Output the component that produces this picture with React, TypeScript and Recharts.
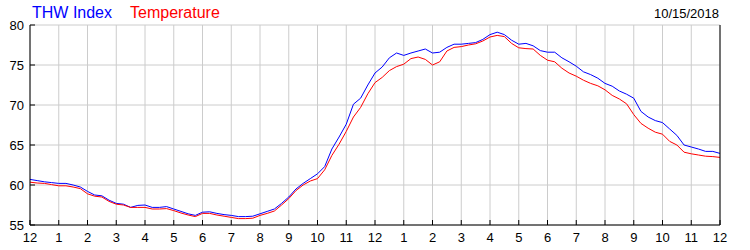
import { CartesianGrid, Line, LineChart, XAxis, YAxis } from 'recharts';

// quarter-hour readings, midnight to midnight
const hours = Array.from({ length: 97 }, (_, i) => i / 4);

const thwIndex = [
  60.7, 60.55, 60.4, 60.3, 60.2, 60.2, 60.0, 59.75,
  59.2, 58.75, 58.65, 58.1, 57.7, 57.6, 57.2, 57.45,
  57.5, 57.2, 57.2, 57.3, 57.0, 56.7, 56.4, 56.2,
  56.6, 56.65, 56.45, 56.3, 56.2, 56.05, 56.05, 56.1,
  56.4, 56.7, 57.0, 57.7, 58.5, 59.5, 60.2, 60.8,
  61.4, 62.3, 64.5, 66.0, 67.6, 70.1, 70.85, 72.5,
  74.0, 74.75, 75.9, 76.5, 76.2, 76.5, 76.75, 77.0,
  76.5, 76.6, 77.2, 77.6, 77.6, 77.7, 77.8, 78.2,
  78.8, 79.1, 78.8, 78.1, 77.6, 77.7, 77.4, 76.8,
  76.6, 76.6, 75.9, 75.4, 74.85, 74.15, 73.8, 73.35,
  72.7, 72.35, 71.75, 71.35, 70.85, 69.2, 68.5, 68.05,
  67.8, 67.0, 66.2, 65.0, 64.75, 64.5, 64.2, 64.2,
  63.95,
];

const temperature = [
  60.35, 60.25, 60.2, 60.05, 59.9, 59.9, 59.75, 59.55,
  58.9, 58.6, 58.5, 57.95, 57.6, 57.5, 57.2, 57.2,
  57.2, 57.0, 57.0, 57.05, 56.8, 56.5, 56.25, 56.05,
  56.45, 56.45, 56.25, 56.1, 55.95, 55.8, 55.8, 55.85,
  56.2, 56.45, 56.75, 57.5, 58.3, 59.3, 60.0, 60.5,
  60.8, 61.9, 63.7, 65.1, 66.7, 68.5, 69.7, 71.4,
  72.8, 73.45, 74.3, 74.8, 75.1, 75.8, 76.0, 75.7,
  75.0, 75.4, 76.75, 77.2, 77.3, 77.5, 77.65, 78.0,
  78.5, 78.7, 78.55, 77.7, 77.15, 77.05, 77.0, 76.2,
  75.6, 75.4, 74.6, 74.0, 73.6, 73.1, 72.7, 72.4,
  71.9, 71.2, 70.75, 70.15, 68.8, 67.7, 67.1, 66.6,
  66.35, 65.45, 65.0, 64.1, 63.9, 63.75, 63.6, 63.55,
  63.45,
];

const hourTicks = Array.from({ length: 25 }, (_, i) => i);
const tempTicks = [55, 60, 65, 70, 75, 80];

const data = hours.map((h, i) => ({
  h,
  thw: thwIndex[i],
  temp: temperature[i],
}));

const FONT = '"Liberation Sans", Arial, sans-serif';
const TICK_COLOR = '#000';

const clockLabel = (h: number) => String(h % 12 === 0 ? 12 : h % 12);

const BottomTick = ({ x, y, payload }: any) => (
  <g>
    <line x1={x} x2={x} y1={y - 5} y2={y} stroke={TICK_COLOR} />
    <text x={x} y={y + 17} textAnchor='middle' fontSize={13} fontFamily={FONT} fill='#000'>
      {clockLabel(payload.value)}
    </text>
  </g>
);

const TopTick = ({ x, y }: any) => (
  <line x1={x} x2={x} y1={y} y2={y + 5} stroke={TICK_COLOR} />
);

const LeftTick = ({ x, y, payload }: any) => (
  <g>
    <line x1={x} x2={x + 5} y1={y} y2={y} stroke={TICK_COLOR} />
    <text x={x - 6} y={y + 5} textAnchor='end' fontSize={13} fontFamily={FONT} fill='#000'>
      {payload.value}
    </text>
  </g>
);

const RightTick = ({ x, y, payload }: any) => (
  <g>
    <line x1={x - 5} x2={x} y1={y} y2={y} stroke={TICK_COLOR} />
    <text x={x + 6} y={y + 5} textAnchor='start' fontSize={13} fontFamily={FONT} fill='#000'>
      {payload.value}
    </text>
  </g>
);

const App = () => {
  return (
    <div style={{ position: 'relative', width: 750, height: 250, background: '#fff' }}>
      <style>{'body { margin: 0; }'}</style>

      {/* Header */}
      <svg width={750} height={25} style={{ position: 'absolute', left: 0, top: 0 }}>
        <text x={32} y={18} fontSize={16} fontFamily={FONT} fill='#0000ff'>
          THW Index
        </text>
        <text x={130} y={18} fontSize={16} fontFamily={FONT} fill='#ff0000'>
          Temperature
        </text>
        <text x={719} y={18} fontSize={13} fontFamily={FONT} fill='#000' textAnchor='end'>
          10/15/2018
        </text>
      </svg>

      <LineChart
        width={750}
        height={250}
        data={data}
        margin={{ top: 25, right: 0, bottom: 0, left: 0 }}
      >
        {/* Grid */}
        <CartesianGrid
          xAxisId='bottom'
          yAxisId='left'
          stroke='#cccccc'
          strokeDasharray=''
        />

        {/* Axis */}
        <XAxis
          xAxisId='bottom'
          dataKey='h'
          type='number'
          domain={[0, 24]}
          ticks={hourTicks}
          interval={0}
          height={25}
          tickSize={0}
          tickMargin={0}
          tickLine={false}
          axisLine={{ stroke: '#000' }}
          tick={<BottomTick />}
        />
        <XAxis
          xAxisId='top'
          orientation='top'
          dataKey='h'
          type='number'
          domain={[0, 24]}
          ticks={hourTicks}
          interval={0}
          height={0}
          tickSize={0}
          tickMargin={0}
          tickLine={false}
          axisLine={{ stroke: '#000' }}
          tick={<TopTick />}
        />
        <YAxis
          yAxisId='left'
          domain={[55, 80]}
          ticks={tempTicks}
          interval={0}
          width={30}
          tickSize={0}
          tickMargin={0}
          tickLine={false}
          axisLine={{ stroke: '#000' }}
          tick={<LeftTick />}
        />
        <YAxis
          yAxisId='right'
          orientation='right'
          domain={[55, 80]}
          ticks={tempTicks}
          interval={0}
          width={30}
          tickSize={0}
          tickMargin={0}
          tickLine={false}
          axisLine={{ stroke: '#000' }}
          tick={<RightTick />}
        />

        {/* Lines */}
        <Line
          xAxisId='bottom'
          yAxisId='left'
          type='linear'
          dataKey='thw'
          stroke='#0000ff'
          strokeWidth={1}
          dot={false}
          isAnimationActive={false}
        />
        <Line
          xAxisId='bottom'
          yAxisId='left'
          type='linear'
          dataKey='temp'
          stroke='#ff0000'
          strokeWidth={1}
          dot={false}
          isAnimationActive={false}
        />
      </LineChart>
    </div>
  );
};

export default App;
